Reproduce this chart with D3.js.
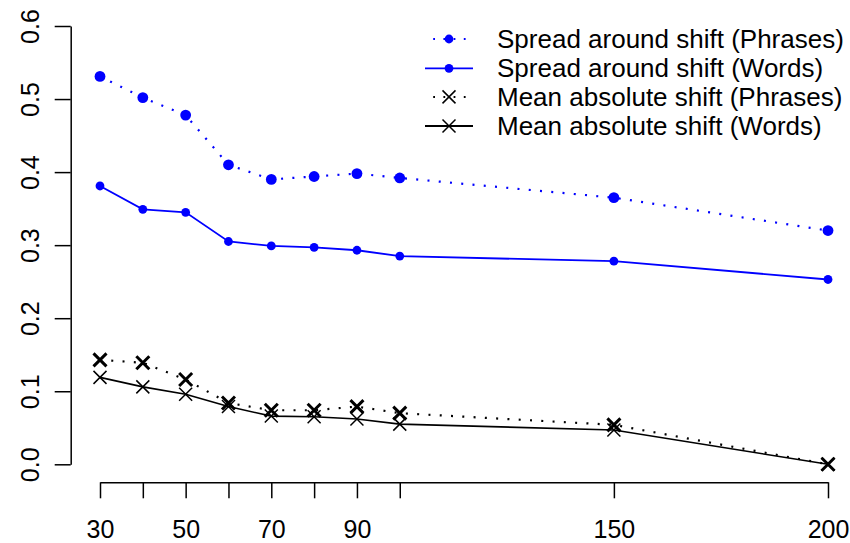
<!DOCTYPE html>
<html>
<head>
<meta charset="utf-8">
<script src="https://cdn.jsdelivr.net/npm/d3@7"></script>
<style>
  html, body { margin: 0; padding: 0; background: #fff; }
  svg { display: block; font-family: "Liberation Sans", Arial, Helvetica, sans-serif; }
</style>
</head>
<body>
<svg id="chart" width="850" height="543"></svg>
<script>
// ---- data ----
const windowSizes = [30, 40, 50, 60, 70, 80, 90, 100, 150, 200];
const spreadPhrases = [0.531, 0.502, 0.478, 0.410, 0.390, 0.394, 0.398, 0.392, 0.365, 0.320];
const spreadWords   = [0.381, 0.349, 0.345, 0.305, 0.299, 0.297, 0.293, 0.285, 0.278, 0.253];
const meanPhrases   = [0.143, 0.139, 0.116, 0.084, 0.074, 0.074, 0.079, 0.070, 0.054, 0.000];
const meanWords     = [0.119, 0.106, 0.096, 0.079, 0.066, 0.065, 0.062, 0.055, 0.047, 0.000];
const xTicks = [30, 40, 50, 60, 70, 80, 90, 100, 150, 200];
const xTickLabels = ["30", "", "50", "", "70", "", "90", "", "150", "200"];
const yTicks = [0.0, 0.1, 0.2, 0.3, 0.4, 0.5, 0.6];
const yTickLabels = ["0.0", "0.1", "0.2", "0.3", "0.4", "0.5", "0.6"];
const legendLabels = [
  "Spread around shift (Phrases)",
  "Spread around shift (Words)",
  "Mean absolute shift (Phrases)",
  "Mean absolute shift (Words)"
];

// ---- layout ----
const svg = d3.select("#chart");
const x = d3.scaleLinear().domain([30, 200]).range([100, 828]);
const y = d3.scaleLinear().domain([0, 0.6]).range([464.3, 26]);
const fontSize = 25;

const series = [
  { values: spreadPhrases, color: "#0000ff", dash: "2 9.3", mark: "dot", r: 5.4, lw: 2.2, mlw: 0 },
  { values: spreadWords,   color: "#0000ff", dash: null,    mark: "dot", r: 4.4, lw: 1.8, mlw: 0 },
  { values: meanPhrases,   color: "#000000", dash: "2 9.3", mark: "x",   r: 6.5, lw: 2.2, mlw: 3 },
  { values: meanWords,     color: "#000000", dash: null,    mark: "x",   r: 6.5, lw: 1.6, mlw: 1.5 }
];

// ---- axes ----
const xAxis = d3.axisBottom(x).tickValues(xTicks)
  .tickFormat((d, i) => xTickLabels[i]).tickSize(16).tickSizeOuter(0);
const gx = svg.append("g").attr("transform", "translate(0,482.3)").call(xAxis);
gx.select(".domain").attr("stroke", "#000").attr("stroke-width", 1.5);
gx.selectAll(".tick line").attr("stroke", "#000").attr("stroke-width", 1.5);
gx.selectAll(".tick text").attr("y", 56).attr("dy", 0)
  .attr("font-size", fontSize).attr("font-family", "Liberation Sans, Arial, sans-serif").attr("fill", "#000");

const yAxis = d3.axisLeft(y).tickValues(yTicks)
  .tickFormat((d, i) => yTickLabels[i]).tickSize(16).tickSizeOuter(0);
const gy = svg.append("g").attr("transform", "translate(70.7,0)").call(yAxis);
gy.select(".domain").attr("stroke", "#000").attr("stroke-width", 1.5);
gy.selectAll(".tick line").attr("stroke", "#000").attr("stroke-width", 1.5);
gy.selectAll(".tick text")
  .attr("x", 0).attr("y", 0).attr("dy", 0)
  .attr("transform", "translate(-32,0) rotate(-90)")
  .attr("text-anchor", "middle")
  .attr("font-size", fontSize).attr("font-family", "Liberation Sans, Arial, sans-serif").attr("fill", "#000");

// ---- series ----
function drawMark(g, cx, cy, s, sw) {
  if (s.mark === "dot") {
    g.append("circle").attr("cx", cx).attr("cy", cy).attr("r", s.r).attr("fill", s.color);
  } else {
    g.append("path")
      .attr("d", `M${cx - s.r},${cy - s.r}L${cx + s.r},${cy + s.r}M${cx - s.r},${cy + s.r}L${cx + s.r},${cy - s.r}`)
      .attr("stroke", s.color).attr("stroke-width", sw).attr("fill", "none");
  }
}

const line = d3.line().x((d, i) => x(windowSizes[i])).y(d => y(d));
series.forEach(s => {
  const g = svg.append("g");
  g.append("path").datum(s.values).attr("d", line)
    .attr("fill", "none").attr("stroke", s.color).attr("stroke-width", s.lw)
    .attr("stroke-dasharray", s.dash);
  s.values.forEach((v, i) => drawMark(g, x(windowSizes[i]), y(v), s, s.mlw));
});

// ---- legend ----
const legendRows = [39, 68.3, 96.9, 126];
const lg = svg.append("g");
series.forEach((s, i) => {
  const ry = legendRows[i];
  lg.append("line").attr("x1", 425).attr("x2", 473).attr("y1", ry).attr("y2", ry)
    .attr("stroke", s.color).attr("stroke-width", s.dash ? 2 : 1.8).attr("stroke-dasharray", s.dash ? "1.8 8.4" : null)
    .attr("stroke-dashoffset", s.dash ? 2 : null);
  drawMark(lg, 449, ry, { mark: s.mark, color: s.color, r: s.mark === "dot" ? 4.4 : 6.5 }, 1.5);
  lg.append("text").attr("x", 497).attr("y", ry + 9)
    .attr("font-size", 26).attr("fill", "#000").text(legendLabels[i]);
});
</script>
</body>
</html>
